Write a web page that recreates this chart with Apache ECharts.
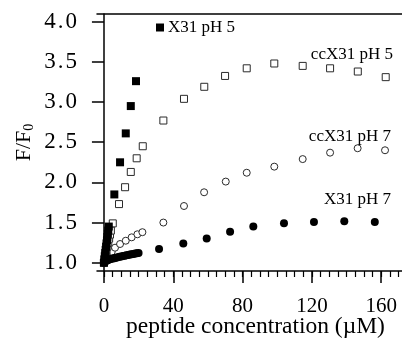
<!DOCTYPE html>
<html>
<head>
<meta charset="utf-8">
<script src="https://cdn.jsdelivr.net/npm/echarts@6/dist/echarts.min.js"></script>
<style>
html,body{margin:0;padding:0;background:#fff;}
#c{width:402px;height:338px;}
</style>
</head>
<body>
<div id="c"></div>
<script>
// ---- data ----
var x31pH5X = [0, 0.25, 0.5, 0.75, 1, 1.25, 1.5, 1.75, 2, 2.25, 2.5, 2.8, 6.0, 9.3, 12.6, 15.5, 18.5];
var x31pH5Y = [1.00, 1.04, 1.08, 1.12, 1.16, 1.20, 1.24, 1.28, 1.32, 1.36, 1.40, 1.45, 1.85, 2.25, 2.61, 2.95, 3.26];

var ccX31pH5X = [0, 0.5, 1, 1.5, 2, 2.5, 3, 3.5, 4, 5.1, 8.7, 12.2, 15.5, 18.9, 22.4, 34.3, 46.2, 57.9, 69.9, 82.4, 98.3, 114.7, 130.5, 146.5, 162.6];
var ccX31pH5Y = [1.00, 1.05, 1.10, 1.15, 1.20, 1.25, 1.30, 1.35, 1.40, 1.49, 1.73, 1.94, 2.13, 2.30, 2.45, 2.77, 3.04, 3.19, 3.325, 3.42, 3.48, 3.45, 3.42, 3.38, 3.31];

var ccX31pH7X = [0, 0.5, 1, 1.5, 2, 2.5, 3, 3.5, 4.5, 6.4, 9.3, 12.6, 16.0, 19.3, 22.2, 34.3, 46.2, 57.8, 70.3, 82.4, 98.3, 114.7, 130.5, 146.4, 162.2];
var ccX31pH7Y = [1.00, 1.02, 1.035, 1.05, 1.065, 1.08, 1.095, 1.11, 1.137, 1.187, 1.233, 1.274, 1.316, 1.354, 1.38, 1.50, 1.706, 1.877, 2.01, 2.12, 2.196, 2.29, 2.37, 2.425, 2.40];

var x31pH7X = [0, 0.5, 1, 1.5, 2, 2.5, 3, 4, 5, 6, 7, 8, 9, 10, 11, 12, 13, 14, 15, 16, 17, 18, 19, 20, 31.8, 45.8, 59.3, 72.8, 86.2, 103.9, 121.2, 138.7, 156.3];
var x31pH7Y = [1.00, 1.012, 1.02, 1.026, 1.031, 1.036, 1.04, 1.046, 1.052, 1.057, 1.063, 1.068, 1.073, 1.078, 1.083, 1.088, 1.093, 1.097, 1.101, 1.106, 1.110, 1.114, 1.118, 1.122, 1.17, 1.24, 1.30, 1.386, 1.45, 1.49, 1.507, 1.515, 1.507];

var xTickLabels = [0, 40, 80, 120, 160];
var xMinorTicks = [0, 5, 10, 15, 20, 25, 30, 35, 40, 45, 50, 55, 60, 65, 70, 75, 80, 85, 90, 95, 100, 105, 110, 115, 120, 125, 130, 135, 140, 145, 150, 155, 160, 165, 170];
var yTickLabels = [1.0, 1.5, 2.0, 2.5, 3.0, 3.5, 4.0];

var seriesNames = ['X31 pH 5', 'ccX31 pH 5', 'ccX31 pH 7', 'X31 pH 7'];

function pairs(xs, ys) { return xs.map(function (x, i) { return [x, ys[i]]; }); }

var FONT = 'Liberation Serif';
var chart = echarts.init(document.getElementById('c'), null, { renderer: 'canvas' });

var openStyle = { color: '#ffffff', borderColor: '#2a2a2a', borderWidth: 1, opacity: 1 };
var fillStyle = { color: '#000000', opacity: 1 };

chart.setOption({
  animation: false,
  backgroundColor: '#ffffff',
  grid: { left: 97, right: 0, top: 14, bottom: 67, outerBoundsMode: 'none', containLabel: false },
  legend: {
    data: [seriesNames[0]],
    left: 156, top: 19,
    itemWidth: 8, itemHeight: 8, icon: 'rect',
    padding: 0,
    itemStyle: { opacity: 1 },
    textStyle: { fontFamily: FONT, fontSize: 17, color: '#000', padding: [0, 0, 0, -1] },
    selectedMode: false
  },
  xAxis: [
    {
      type: 'value', position: 'bottom', min: -4, max: 172,
      axisLine: { show: true, lineStyle: { color: '#000', width: 1.5 } },
      axisTick: { show: true, customValues: xTickLabels, length: 12, lineStyle: { color: '#000', width: 1.5 } },
      axisLabel: { customValues: xTickLabels, fontFamily: FONT, fontSize: 21, color: '#000', margin: 25 },
      splitLine: { show: false },
      name: 'peptide concentration (\u00b5M)',
      nameLocation: 'middle', nameGap: 44, nameMoveOverlap: false,
      nameTextStyle: { fontFamily: FONT, fontSize: 23.5, color: '#000', padding: [0, 0, 0, 12] }
    },
    {
      type: 'value', position: 'bottom', min: -4, max: 172,
      axisLine: { show: false },
      axisTick: { show: true, customValues: xMinorTicks, length: 6, lineStyle: { color: '#000', width: 1.2 } },
      axisLabel: { show: false },
      splitLine: { show: false }
    },
    {
      type: 'value', position: 'top', min: -4, max: 172,
      axisLine: { show: true, lineStyle: { color: '#000', width: 1.5 } },
      axisTick: { show: false }, axisLabel: { show: false }, splitLine: { show: false }
    }
  ],
  yAxis: [
    {
      type: 'value', min: 0.897, max: 4.096,
      axisLine: { show: true, lineStyle: { color: '#000', width: 1.5 } },
      axisTick: { show: true, customValues: yTickLabels, length: 12, lineStyle: { color: '#000', width: 1.5 } },
      axisLabel: {
        customValues: yTickLabels, fontFamily: FONT, fontSize: 23, color: '#000', margin: 20,
        formatter: function (v) {
          var s = v.toFixed(1).split('.');
          return '{d|' + s[0] + '}{p|.}{d|' + s[1] + '}';
        },
        rich: {
          d: { fontFamily: FONT, fontSize: 23, color: '#000' },
          p: { fontFamily: FONT, fontSize: 23, color: '#000', padding: [0, 2, 0, 2] }
        }
      },
      splitLine: { show: false },
      name: 'F/F{s|0}', nameLocation: 'middle', nameGap: 61, nameRotate: 90, nameMoveOverlap: false,
      nameTextStyle: {
        fontFamily: FONT, fontSize: 22, color: '#000',
        rich: { s: { fontFamily: FONT, fontSize: 14, color: '#000', padding: [9, 0, 0, 0] } }
      }
    }
  ],
  graphic: [
    { type: 'text', right: 9, top: 46, style: { text: 'ccX31 pH 5', font: '17px "Liberation Serif"', fill: '#000' } },
    { type: 'text', right: 11, top: 128, style: { text: 'ccX31 pH 7', font: '17px "Liberation Serif"', fill: '#000' } },
    { type: 'text', right: 11, top: 191, style: { text: 'X31 pH 7', font: '17px "Liberation Serif"', fill: '#000' } }
  ],
  series: [
    {
      name: seriesNames[2], type: 'scatter', xAxisIndex: 0, symbol: 'circle', symbolSize: 7,
      itemStyle: openStyle, data: pairs(ccX31pH7X, ccX31pH7Y), z: 2
    },
    {
      name: seriesNames[1], type: 'scatter', xAxisIndex: 0, symbol: 'rect', symbolSize: 7,
      itemStyle: openStyle, data: pairs(ccX31pH5X, ccX31pH5Y), z: 3
    },
    {
      name: seriesNames[3], type: 'scatter', xAxisIndex: 0, symbol: 'circle', symbolSize: 8,
      itemStyle: fillStyle, data: pairs(x31pH7X, x31pH7Y), z: 4
    },
    {
      name: seriesNames[0], type: 'scatter', xAxisIndex: 0, symbol: 'rect', symbolSize: 8,
      itemStyle: fillStyle, data: pairs(x31pH5X, x31pH5Y), z: 5
    }
  ]
});
</script>
</body>
</html>
